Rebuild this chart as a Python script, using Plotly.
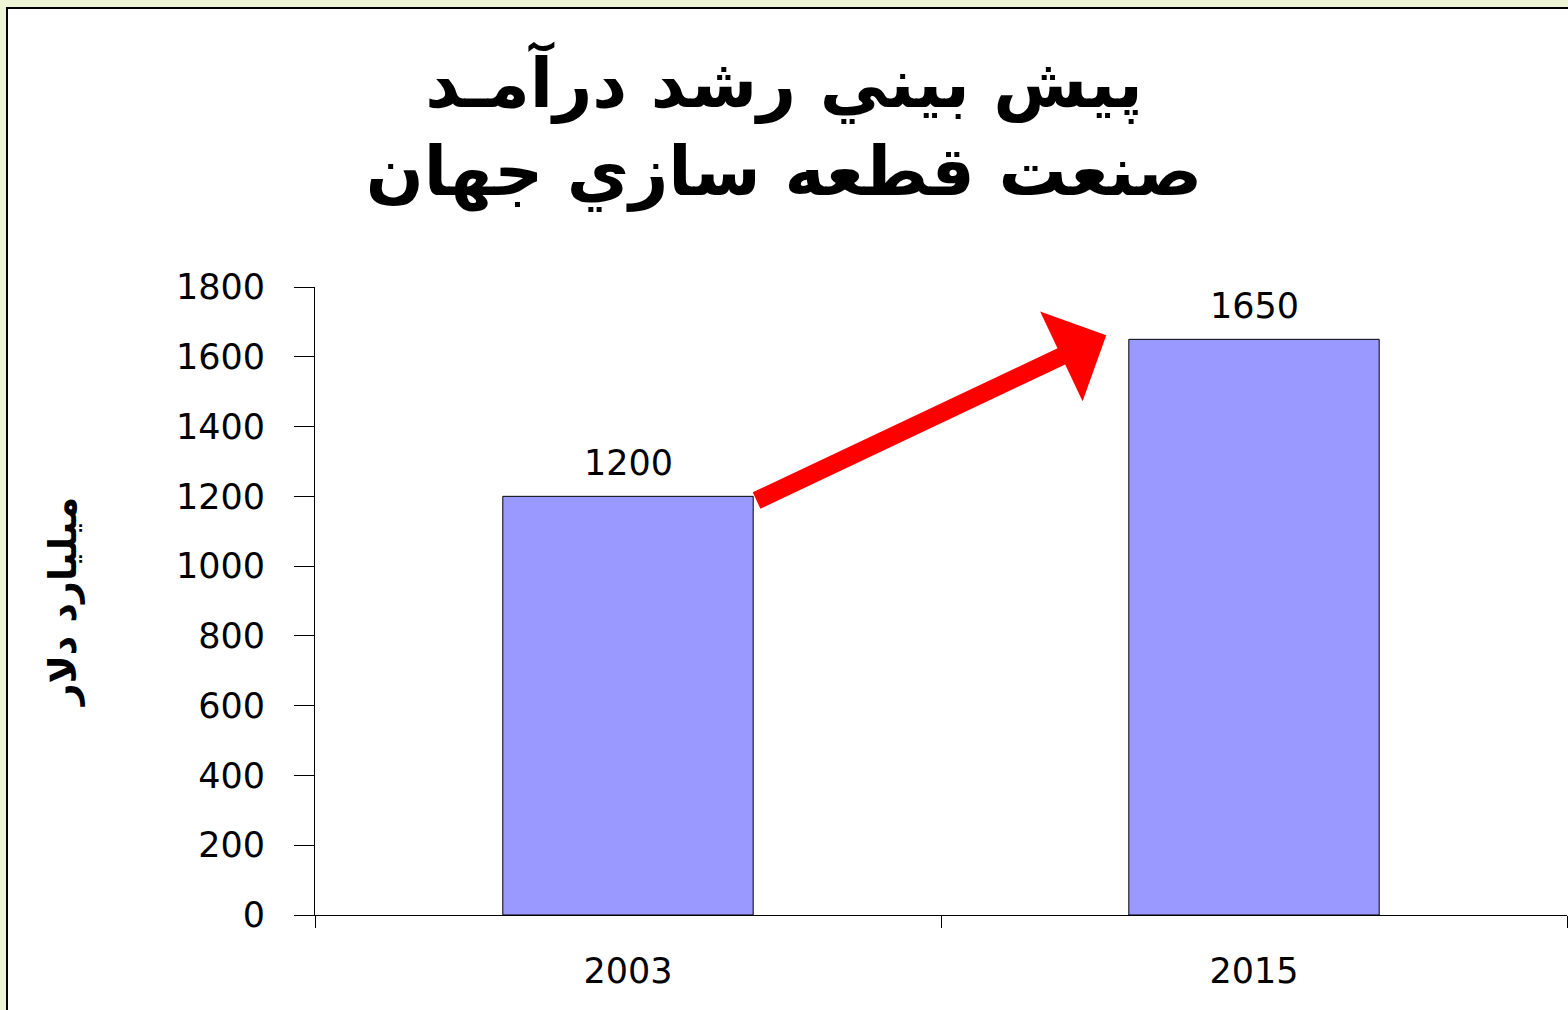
import plotly.graph_objects as go

# ---- data ----
years = ["2003", "2015"]
revenue = [1200, 1650]
y_ticks = [0, 200, 400, 600, 800, 1000, 1200, 1400, 1600, 1800]
title_lines = ["پيش بيني رشد درآمـد", "صنعت قطعه سازي جهان"]
y_title = "ميليارد دلار"

W, H = 1568, 1010
L, R, T, B = 315, 1, 287, 95
plot_w = W - L - R
plot_h = H - T - B

num_font = dict(family="DejaVu Sans, Liberation Sans, Arial", size=35, color="black")

fig = go.Figure()
fig.add_trace(go.Bar(
    x=years, y=revenue,
    marker=dict(color="#9999FF", line=dict(color="black", width=1)),
    width=0.4,
    hoverinfo="skip",
))

# value labels above bars (category axis -> serial numbers)
for i, v in enumerate(revenue):
    fig.add_annotation(x=i, y=v, text=str(v), showarrow=False,
                       xref="x", yref="y", yanchor="bottom", yshift=11,
                       font=num_font)

# red growth arrow from the top of the first bar towards the second
fig.add_annotation(x=0.764, y=1662, ax=0.203, ay=1186,
                   xref="x", yref="y", axref="x", ayref="y",
                   text="", showarrow=True, arrowhead=1,
                   arrowwidth=18, arrowsize=0.92, arrowcolor="#FF0000")

# slide frame
fig.add_shape(type="rect", xref="paper", yref="paper",
              x0=(7 - L) / plot_w, x1=1.2,
              y0=-0.3, y1=(H - B - 8) / plot_h,
              fillcolor="white", line=dict(color="black", width=2),
              layer="below")

fig.update_layout(
    width=W, height=H,
    margin=dict(l=L, r=R, t=T, b=B, autoexpand=False),
    paper_bgcolor="#EEF5D6",
    plot_bgcolor="rgba(0,0,0,0)",
    showlegend=False,
    title=dict(text="<br>".join(title_lines), xref="container", x=0.5,
               xanchor="center", yref="container", y=1 - 107 / H, yanchor="top",
               font=dict(family="DejaVu Sans, Noto Sans", size=68, color="black",
                         weight="bold")),
    xaxis=dict(type="category", range=[-0.5, 1.5], showline=True,
               linecolor="black", linewidth=1,
               ticks="outside", tickson="boundaries", ticklen=12,
               tickcolor="black", showgrid=False, zeroline=False,
               tickfont=num_font, ticklabelstandoff=25, tickangle=0,
               fixedrange=True),
    yaxis=dict(range=[0, 1800], tickvals=y_ticks, showline=True,
               linecolor="black", linewidth=1, ticks="outside", ticklen=20,
               tickcolor="black", showgrid=False, zeroline=False,
               tickfont=num_font, ticklabelstandoff=22,
               title=dict(text=y_title, standoff=87,
                          font=dict(family="DejaVu Sans", size=38,
                                    color="black", weight="bold")),
               fixedrange=True),
)

fig.write_html("out.html", config={"displayModeBar": False},
               post_script="document.body.style.margin='0px';")
